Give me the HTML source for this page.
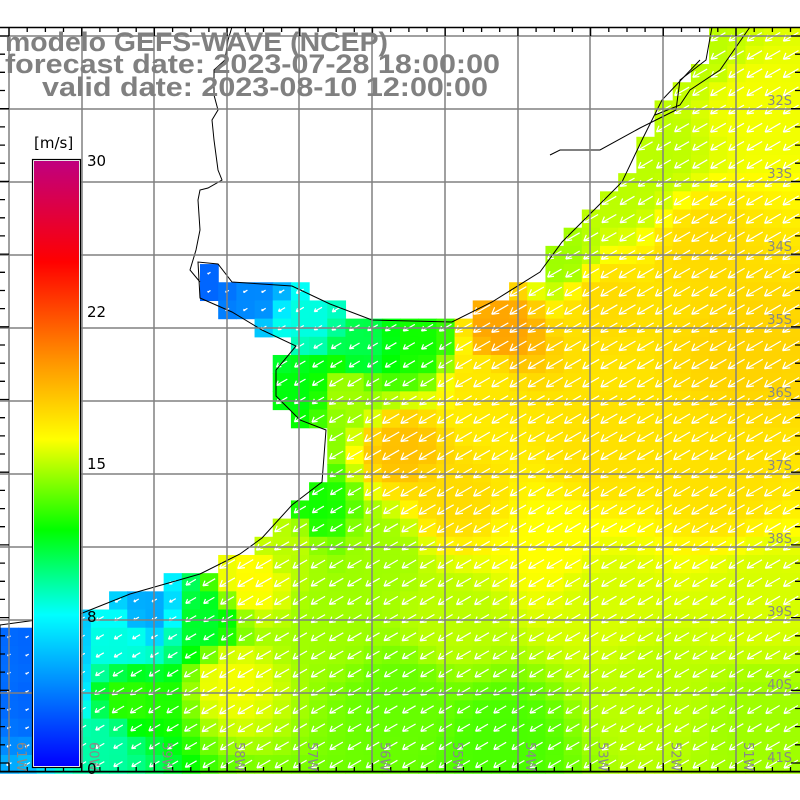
<!DOCTYPE html>
<html><head><meta charset="utf-8"><style>
html,body{margin:0;padding:0;background:#fff;width:800px;height:800px;overflow:hidden}
svg{display:block}
.t{font-family:"Liberation Sans",sans-serif;font-weight:bold;fill:#808080;font-size:27px}
.l{font-family:"DejaVu Sans","Liberation Sans",sans-serif;fill:#000;font-size:15px}
.g{font-family:"DejaVu Sans","Liberation Sans",sans-serif;fill:#888;font-size:13px}
</style></head><body>
<svg id="s" width="800" height="800" xmlns="http://www.w3.org/2000/svg"></svg>
<script>
const S=document.getElementById('s');let h='';
const C=800/44, Y0=27.7;
const water=[[712,27],[800,27],[800,772],[0,772],[0,625],[80,614],[130,594],[200,574],[240,554],[262,538],[292,505],[322,482],[326,430],[300,420],[276,396],[276,370],[296,346],[262,330],[232,312],[200,298],[198,262],[218,264],[232,282],[292,286],[330,304],[372,320],[452,322],[492,302],[540,272],[562,242],[592,212],[622,182],[642,140],[662,100],[700,60]];
function inside(x,y,p){let c=false;for(let i=0,j=p.length-1;i<p.length;j=i++){const[xi,yi]=p[i],[xj,yj]=p[j];if(((yi>y)!=(yj>y))&&(x<(xj-xi)*(y-yi)/(yj-yi)+xi))c=!c;}return c;}
const P=[[750,100,16],[650,150,15],[700,250,17.5],[740,350,17.8],[600,300,17.5],[500,330,19.5],[480,380,17],[400,450,18.5],[450,500,17.5],[600,450,17.3],[720,480,17.3],[760,600,15.5],[600,600,15.5],[450,620,15],[400,700,13.5],[500,740,13],[650,700,15],[760,720,14.5],[250,580,16.3],[230,680,16],[130,700,12.5],[120,640,8],[40,700,3],[40,640,3],[150,610,5],[250,290,4],[210,280,3],[310,320,8],[360,345,10.5],[420,340,12],[300,390,11.5],[345,395,14.5],[315,510,12],[290,540,15],[560,260,14.5],[620,190,15],[700,50,15],[380,550,14.5],[550,550,16.2],[100,740,9],[330,620,14.5],[200,620,11]];
function val(x,y){let s=0,w=0;for(const[a,b,v]of P){const d=(x-a)**2+(y-b)**2+1;const q=1/(d*d);s+=q*v;w+=q;}return s/w;}
const CM=[[0,[0,0,255]],[7.5,[0,255,255]],[11.7,[0,255,0]],[16.2,[255,255,0]],[20,[255,150,0]],[25,[255,0,0]],[30,[192,0,127]]];
function col(v){v=Math.max(0,Math.min(30,v));for(let i=1;i<CM.length;i++){if(v<=CM[i][0]){const[a,ca]=CM[i-1],[b,cb]=CM[i];const t=(v-a)/(b-a);return 'rgb('+ca.map((c,k)=>Math.round(c+(cb[k]-c)*t)).join(',')+')';}}return 'rgb(192,0,127)';}
let arrows='';
for(let i=0;i<44;i++)for(let j=0;j<41;j++){const x=i*C,y=Y0+j*C,cx=x+C/2,cy=y+C/2;if(!inside(cx,cy,water))continue;const v=val(cx,cy);h+=`<rect x="${x.toFixed(2)}" y="${y.toFixed(2)}" width="${(C+0.6).toFixed(2)}" height="${(C+0.6).toFixed(2)}" fill="${col(v)}"/>`;
const L=Math.max(2.5,Math.min(19,v*1.1));const dx=L*0.87,dy=L*0.5;const ex=cx-dx/2,ey=cy+dy/2;
arrows+=`M${(cx+dx/2).toFixed(1)} ${(cy-dy/2).toFixed(1)}L${ex.toFixed(1)} ${ey.toFixed(1)}M${ex.toFixed(1)} ${ey.toFixed(1)}l${(L*0.4).toFixed(1)} ${(-L*0.05).toFixed(1)}M${ex.toFixed(1)} ${ey.toFixed(1)}l${(L*0.15).toFixed(1)} ${(-L*0.37).toFixed(1)}`;}
h+=`<path d="${arrows}" stroke="#fff" stroke-width="1.2" fill="none"/>`;
h+=`<polyline points="${water.slice(2).map(p=>p.join(',')).join(' ')}" fill="none" stroke="#000" stroke-width="1"/>`;
h+=`<polyline points="712,27 706,60 680,80 676,110 640,128 600,150 560,150 550,155" fill="none" stroke="#000" stroke-width="1"/>`;
h+=`<polyline points="232,27 228,40 225,60 214,70 214,95 218,110 212,120 214,140 218,170 222,180 208,188 200,190 198,200 200,230 196,250 190,270 200,282" fill="none" stroke="#000" stroke-width="1"/>`;
h+=`<polyline points="750,27 720,70 690,90 680,105 655,115" fill="none" stroke="#000" stroke-width="1"/>`;
let g='';const gx=[9,82,154,227,299,372,445,518,590,663,736];const gy=[36,109,182,255,328,401,474,547,620,693];
for(const x of gx)g+=`M${x} 27V772`;for(const y of gy)g+=`M0 ${y}H800`;
h+=`<path d="${g}" stroke="#808080" stroke-width="1.5" fill="none"/>`;
let t='';for(let k=0;k<=44;k++){const x=9+k*72.7/4;t+=`M${x.toFixed(1)} 27v${k%4?5:9}M${x.toFixed(1)} 772v-${k%4?5:9}`;}
for(let k=-1;k<=41;k++){const y=36+k*72.7/4;if(y<27||y>772)continue;t+=`M0 ${y.toFixed(1)}h${k%4?5:9}M800 ${y.toFixed(1)}h-${k%4?5:9}`;}
h+=`<path d="${t}" stroke="#000" stroke-width="1.3" fill="none"/><path d="M0 27.5H800M0 771.5H800" stroke="#000" stroke-width="1.5"/>`;
const lats=['32S','33S','34S','35S','36S','37S','38S','39S','40S','41S'];
lats.forEach((s,k)=>{h+=`<text class="g" x="792" y="${105+k*73}" text-anchor="end">${s}</text>`;});
const lons=['61W','60W','59W','58W','57W','56W','55W','54W','53W','52W','51W'];
lons.forEach((s,k)=>{const x=17+k*72.7;h+=`<text class="g" transform="translate(${x},742) rotate(90)">${s}</text>`;});
h+=`<defs><linearGradient id="cb" x1="0" y1="1" x2="0" y2="0">${CM.map(([v,c])=>`<stop offset="${v/30}" stop-color="rgb(${c.join(',')})"/>`).join('')}</linearGradient></defs>`;
h+=`<rect x="32.5" y="159.5" width="48" height="608" fill="#fff" stroke="#000" stroke-width="1.2"/><rect x="34" y="161" width="45" height="605" fill="url(#cb)"/>`;
h+=`<text class="l" x="34" y="148">[m/s]</text><text class="l" x="87" y="166">30</text><text class="l" x="87" y="317">22</text><text class="l" x="87" y="469">15</text><text class="l" x="87" y="622">8</text><text class="l" x="87" y="774">0</text>`;
h+=`<text class="t" x="5" y="51" textLength="383" lengthAdjust="spacingAndGlyphs">modelo GEFS-WAVE (NCEP)</text><text class="t" x="5" y="73" textLength="495" lengthAdjust="spacingAndGlyphs">forecast date: 2023-07-28 18:00:00</text><text class="t" x="42" y="96" textLength="446" lengthAdjust="spacingAndGlyphs">valid date: 2023-08-10 12:00:00</text>`;
S.innerHTML=h;
</script>
</body></html>
